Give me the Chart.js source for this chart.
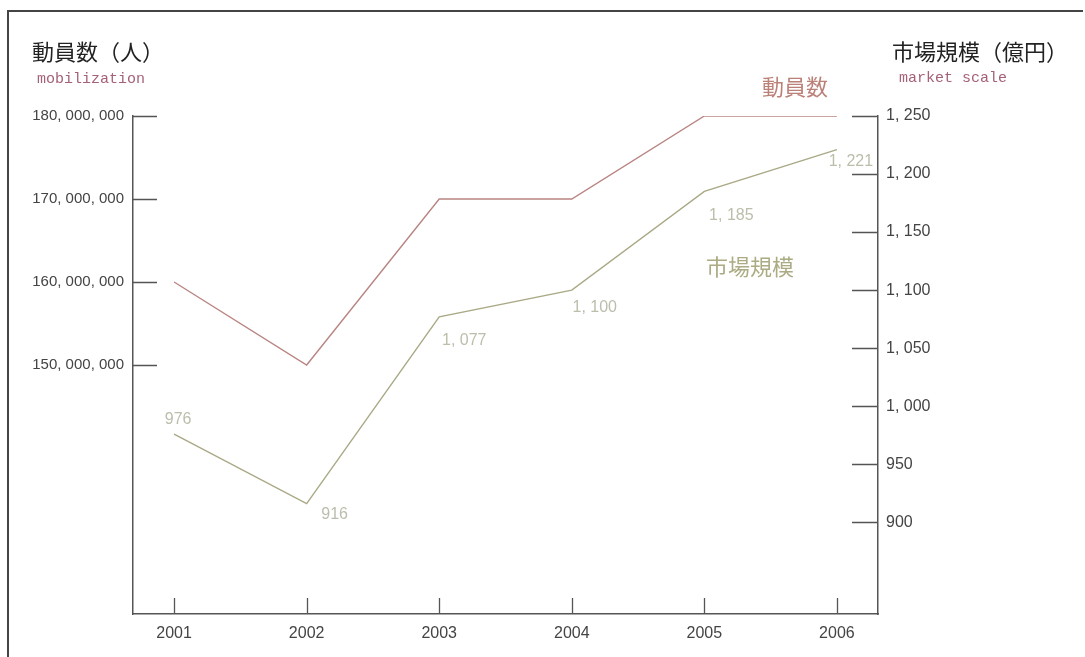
<!DOCTYPE html>
<html>
<head>
<meta charset="utf-8">
<script src="https://cdn.jsdelivr.net/npm/chart.js@4"></script>
<style>
  body { margin: 0; background: #fff; }
  #wrap { position: relative; width: 1085px; height: 657px; }
</style>
</head>
<body>
<div id="wrap"><canvas id="line-chart" width="1085" height="657"></canvas></div>
<script>
// data
const years = [2001, 2002, 2003, 2004, 2005, 2006];
const mobilization = [160000000, 150000000, 170000000, 170000000, 180000000, 180000000];
const marketScale = [976, 916, 1077, 1100, 1185, 1221];
const leftTicks = [150000000, 160000000, 170000000, 180000000];
const rightTicks = [900, 950, 1000, 1050, 1100, 1150, 1200, 1250];

const sans = "'Liberation Sans', Arial, sans-serif";
const jp = "'Noto Sans CJK JP', 'Noto Sans', sans-serif";
const mono = "'Liberation Mono', 'DejaVu Sans Mono', monospace";
const axisColor = '#555';

const fmt = v => v.toLocaleString('en-US').replace(/,/g, ', ');

// label nudges from each market point (px)
const labelShift = [[4, -14], [28, 11], [25, 24], [23, 17], [27, 24], [14, 12]];

/*==================== EXTRAS ====================*/
const extras = {
    id: 'extras',
    afterDraw(chart) {
        const ctx = chart.ctx;
        const {x, y, y1} = chart.scales;
        const area = chart.chartArea;
        ctx.save();

        // page frame (top + left edge only)
        ctx.strokeStyle = '#444';
        ctx.lineWidth = 2;
        ctx.beginPath();
        ctx.moveTo(1083, 11);
        ctx.lineTo(8, 11);
        ctx.lineTo(8, 657);
        ctx.stroke();

        // inward tick marks
        ctx.strokeStyle = axisColor;
        ctx.lineWidth = 1.3;
        ctx.beginPath();
        x.ticks.forEach(t => {
            const px = Math.round(x.getPixelForValue(t.value)) + 0.5;
            ctx.moveTo(px, area.bottom);
            ctx.lineTo(px, area.bottom - 16);
        });
        y.ticks.forEach(t => {
            const py = Math.round(y.getPixelForValue(t.value)) + 0.5;
            ctx.moveTo(area.left, py);
            ctx.lineTo(area.left + 24, py);
        });
        y1.ticks.forEach(t => {
            const py = Math.round(y1.getPixelForValue(t.value)) + 0.5;
            ctx.moveTo(area.right, py);
            ctx.lineTo(area.right - 26, py);
        });
        ctx.stroke();

        // axis titles
        ctx.textBaseline = 'middle';
        ctx.textAlign = 'left';
        ctx.fillStyle = '#222';
        ctx.font = '22px ' + jp;
        ctx.fillText('動員数（人）', 32, 52);
        ctx.fillText('市場規模（億円）', 892, 52);
        ctx.fillStyle = '#a5607a';
        ctx.font = '15px ' + mono;
        ctx.fillText('mobilization', 37, 79);
        ctx.fillText('market scale', 899, 78);

        // series names
        ctx.textAlign = 'center';
        ctx.font = '22px ' + jp;
        ctx.fillStyle = '#bb8078';
        ctx.fillText('動員数', 795, 87);
        ctx.fillStyle = '#abab84';
        ctx.fillText('市場規模', 750, 267);

        // value labels on the market line
        ctx.font = '16px ' + sans;
        ctx.fillStyle = '#bdbdab';
        chart.getDatasetMeta(1).data.forEach((pt, i) => {
            ctx.fillText(fmt(marketScale[i]), pt.x + labelShift[i][0], pt.y + labelShift[i][1]);
        });
        ctx.restore();
    }
};

const lineCtx = document.getElementById('line-chart').getContext('2d');

new Chart(lineCtx, {
    type: 'line',
    data: {
        datasets: [{
            label: '動員数',
            data: years.map((yr, i) => ({x: yr, y: mobilization[i]})),
            borderColor: '#b98582',
            borderWidth: 1.4,
            pointRadius: 0,
            tension: 0,
            yAxisID: 'y'
        }, {
            label: '市場規模',
            data: years.map((yr, i) => ({x: yr, y: marketScale[i]})),
            borderColor: '#aaa986',
            borderWidth: 1.4,
            pointRadius: 0,
            tension: 0,
            yAxisID: 'y1'
        }]
    },
    options: {
        responsive: false,
        animation: false,
        layout: { padding: { top: 116, left: 0, right: 0, bottom: 0 } },
        plugins: { legend: { display: false }, tooltip: { enabled: false } },
        scales: {
            x: {
                type: 'linear',
                min: 2000.69,
                max: 2006.31,
                afterBuildTicks: s => { s.ticks = years.map(v => ({value: v})); },
                afterFit: s => { s.height = 43; },
                grid: { display: false, drawTicks: false },
                border: { color: axisColor, width: 1.5 },
                ticks: {
                    padding: 10,
                    color: '#444',
                    font: { family: sans, size: 16 },
                    callback: v => String(v)
                }
            },
            y: {
                position: 'left',
                min: 120000000,
                max: 180000000,
                afterBuildTicks: s => { s.ticks = leftTicks.map(v => ({value: v})); },
                afterFit: s => { s.width = 133; },
                grid: { display: false, drawTicks: false },
                border: { color: axisColor, width: 1.5 },
                ticks: {
                    padding: 9,
                    color: '#444',
                    font: { family: sans, size: 15 },
                    callback: v => fmt(v)
                }
            },
            y1: {
                position: 'right',
                min: 821,
                max: 1250,
                afterBuildTicks: s => { s.ticks = rightTicks.map(v => ({value: v})); },
                afterFit: s => { s.width = 207; },
                grid: { display: false, drawTicks: false },
                border: { color: axisColor, width: 1.5 },
                ticks: {
                    padding: 8,
                    color: '#444',
                    font: { family: sans, size: 16 },
                    callback: v => fmt(v)
                }
            }
        }
    },
    plugins: [extras]
});
</script>
</body>
</html>
